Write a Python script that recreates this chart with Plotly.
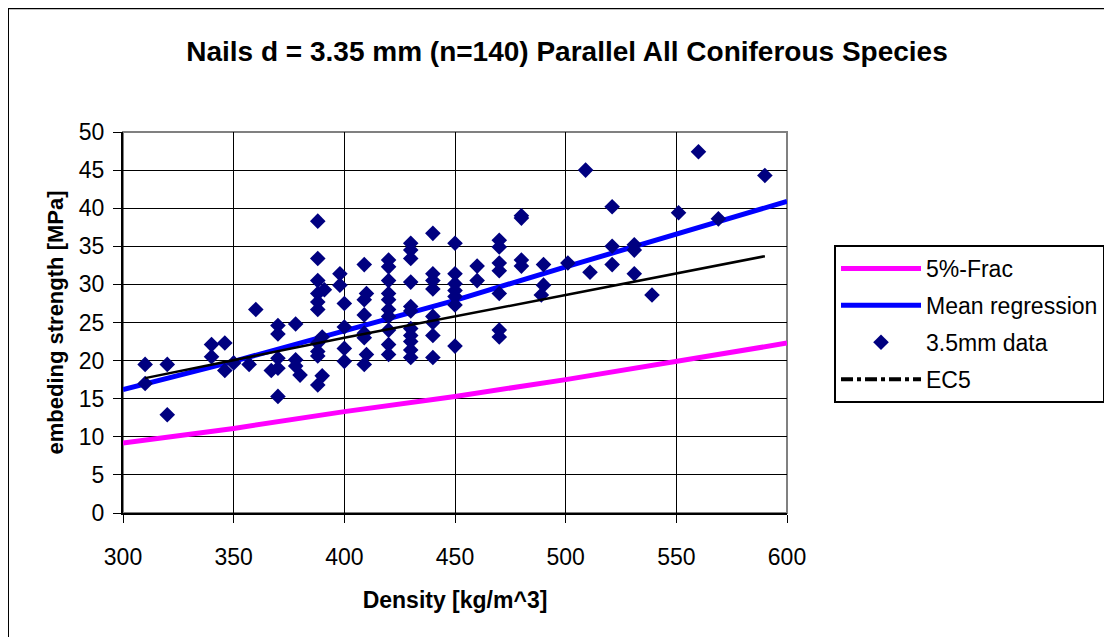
import plotly.graph_objects as go

# 3.5mm nail test data
density = [310, 310, 320, 320, 340, 340, 346, 346, 350, 357, 360,
           370, 370, 370, 367, 370, 370, 378, 378, 378, 380,
           388, 388, 388, 388, 391, 388, 388, 390, 388, 388, 388, 390, 388,
           398, 398, 400, 400, 400, 400,
           409, 410, 409, 409, 409, 409, 410, 409,
           420, 420, 420, 420, 420, 420, 420, 420, 420, 420,
           430, 430, 430, 430, 430, 430, 430, 430, 430, 430, 430,
           440, 440, 440, 440, 440, 440, 440, 440,
           450, 450, 450, 450, 450, 450, 450,
           460, 460,
           470, 470, 470, 470, 470, 470, 470,
           480, 480, 480, 480,
           490, 490, 489, 501, 509, 511, 521, 521, 521,
           531, 531, 531, 539, 551, 560, 569, 590]
strength = [19.5, 17.0, 19.5, 12.9, 22.1, 20.5, 22.3, 18.7, 19.7, 19.5, 26.7,
            24.6, 23.5, 20.3, 18.7, 19.0, 15.3, 24.8, 20.1, 19.3, 18.1,
            38.3, 33.4, 30.5, 28.8, 29.3, 27.7, 26.7, 23.1, 22.3, 21.2, 20.6, 18.0, 16.8,
            31.4, 29.9, 27.5, 24.4, 21.6, 19.9,
            32.6, 28.8, 28.0, 26.0, 23.6, 23.0, 20.8, 19.5,
            33.2, 32.3, 30.5, 28.8, 28.0, 26.7, 25.8, 24.0, 22.1, 20.8,
            35.4, 34.5, 33.4, 30.3, 27.1, 26.5, 24.2, 23.3, 22.5, 21.4, 20.4,
            36.7, 31.4, 30.5, 29.4, 25.8, 25.0, 23.3, 20.4,
            35.4, 31.4, 30.1, 29.2, 28.4, 27.3, 21.9,
            32.4, 30.5,
            35.8, 34.9, 32.8, 31.8, 28.8, 24.0, 23.1,
            39.0, 38.7, 33.2, 32.4,
            32.6, 29.9, 28.6, 32.8, 45.0, 31.6, 40.2, 35.0, 32.6,
            35.2, 34.5, 31.4, 28.6, 39.4, 47.4, 38.6, 44.3]

# fitted curves
frac_x = [300, 350, 400, 450, 500, 550, 600]
frac_y = [9.2, 11.1, 13.3, 15.3, 17.5, 19.9, 22.3]
mean_x = [300, 350, 400, 450, 500, 550, 600]
mean_y = [16.2, 19.9, 23.9, 27.9, 32.3, 36.6, 40.9]
ec5_x = [310, 400, 500, 590]
ec5_y = [17.7, 23.0, 28.6, 33.7]

x_ticks = [300, 350, 400, 450, 500, 550, 600]
y_ticks = [0, 5, 10, 15, 20, 25, 30, 35, 40, 45, 50]

FONT = "Arial, Liberation Sans, sans-serif"

fig = go.Figure()
fig.add_trace(go.Scatter(x=frac_x, y=frac_y, mode="lines", name="5%-Frac",
                         line=dict(color="#FF00FF", width=5), legendgroup="a"))
fig.add_trace(go.Scatter(x=mean_x, y=mean_y, mode="lines", name="Mean regression",
                         line=dict(color="#0000FF", width=5), legendgroup="b"))
fig.add_trace(go.Scatter(x=density, y=strength, mode="markers", name="3.5mm data",
                         marker=dict(symbol="diamond", size=12, color="#000080"),
                         legendgroup="c"))
fig.add_trace(go.Scatter(x=ec5_x, y=ec5_y, mode="lines", name="EC5",
                         line=dict(color="black", width=2.5), showlegend=False,
                         legendgroup="d"))
# legend entry for EC5 (dash-dot sample)
fig.add_trace(go.Scatter(x=[None], y=[None], mode="lines", name="EC5",
                         line=dict(color="black", width=4, dash="dashdot"),
                         legendgroup="d"))

# page body has an 8px margin, so margins are pulled in by 8px
fig.update_layout(
    width=1112, height=637,
    margin=dict(l=115, r=333, t=124, b=132, autoexpand=False),
    paper_bgcolor="white", plot_bgcolor="white",
    font=dict(family=FONT, color="black"),
    title=dict(text="<b>Nails d = 3.35 mm (n=140) Parallel All Coniferous Species</b>",
               x=0.5027, xanchor="center", y=0.932, yanchor="middle",
               font=dict(size=28, family=FONT)),
    legend=dict(x=1.0708, y=0.7034, xanchor="left", yanchor="top",
                bgcolor="white", bordercolor="black", borderwidth=2,
                font=dict(size=23, family=FONT), itemwidth=80, entrywidth=275,
                traceorder="grouped", tracegroupgap=4),
    showlegend=True,
)

fig.update_xaxes(
    range=[300, 600], tickvals=x_ticks, showgrid=True, gridcolor="black", gridwidth=1,
    showline=True, linecolor="black", linewidth=2, ticks="outside", ticklen=8,
    tickcolor="black", tickfont=dict(size=23, family=FONT), zeroline=False,
    ticklabelstandoff=14,
    title=dict(text="<b>Density [kg/m^3]</b>", font=dict(size=23, family=FONT), standoff=23),
)
fig.update_yaxes(
    range=[0, 50], tickvals=y_ticks, showgrid=True, gridcolor="black", gridwidth=1,
    showline=True, linecolor="black", linewidth=2, ticks="outside", ticklen=8,
    tickcolor="black", tickfont=dict(size=23, family=FONT), zeroline=False,
    ticklabelstandoff=4,
    title=dict(text="<b>embeding strength [MPa]</b>", font=dict(size=22, family=FONT), standoff=9),
)

# plot area frame (gray top/right) and outer chart border
fig.add_shape(type="rect", xref="paper", yref="paper", x0=0, x1=1, y0=0, y1=1,
              line=dict(color="#808080", width=2), layer="below")
fig.add_shape(type="rect", xref="paper", yref="paper", x0=-0.1732, x1=1.49,
              y0=-0.346, y1=1.325, line=dict(color="black", width=2))

fig.write_html("out.html")
